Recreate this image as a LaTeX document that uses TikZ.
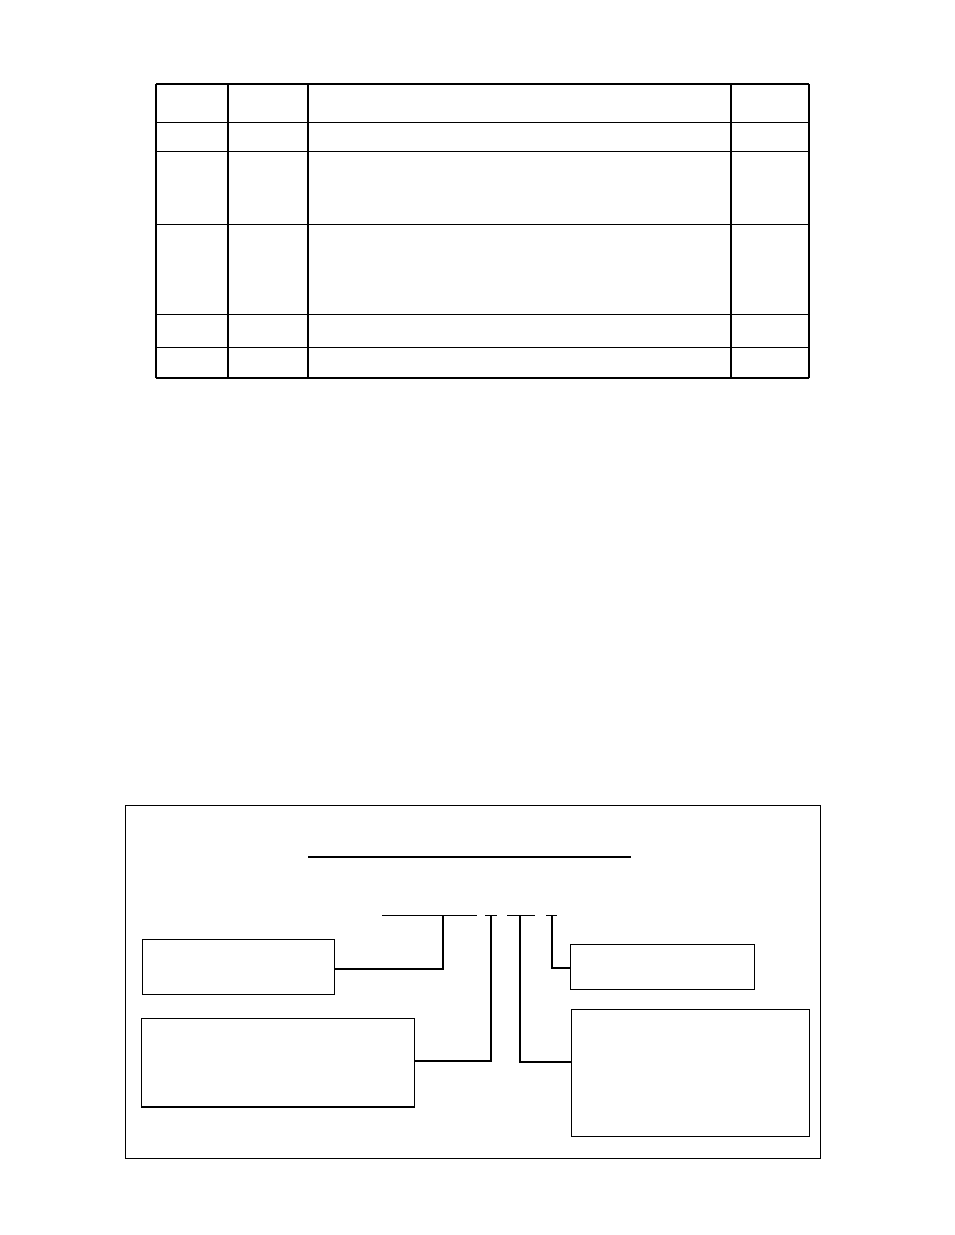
\documentclass[tikz,border=0pt]{standalone}
\usetikzlibrary{positioning}
\begin{document}
\begin{tikzpicture}[x=1pt, y=-1pt,
    box/.style={rectangle, draw, line width=1pt, inner sep=0pt, outer sep=0pt},
    lead/.style={line width=2pt},
    rule/.style={line width=1pt}
]
\useasboundingbox (0,0) rectangle (954,1235);

% Table
\draw[line width=1.8pt] (156,84) -- (809,84);
\draw[line width=2.2pt] (156,378) -- (809,378);
\draw[line width=1.6pt] (156,84) -- (156,378) (809,84) -- (809,378);
\foreach \y in {122,151,224,314,347} \draw[rule] (156,\y) -- (809,\y);
\foreach \x in {228,308,731} \draw[line width=1.3pt] (\x,84) -- (\x,378);

% Code frame
\draw[rule] (125,805) rectangle (820,1158);
\draw[line width=2pt] (308,857) -- (631,857);

% Code line
\draw[rule] (382,915) -- (477,915) (485,915) -- (497,915)
            (507,915) -- (535,915) (546,915) -- (557,915);
\coordinate (c1) at (443,915);
\coordinate (c2) at (491,915);
\coordinate (c3) at (520,915);
\coordinate (c4) at (552,915);

% Boxes
\node[box, minimum width=192pt, minimum height=55pt] (rangebox) at (238,966.5) {};
\node[box, minimum width=273pt, minimum height=89pt] (typebox) at (277.5,1062.5) {};
\draw[line width=2pt] (typebox.south west) -- (typebox.south east);
\node[box, minimum width=184pt, minimum height=45pt] (unitbox) at (662,966.5) {};
\node[box, minimum width=238pt, minimum height=127pt] (optbox) at (690,1072.5) {};

% Leads
\draw[lead] (c1) |- ([yshift=-2.5pt]rangebox.east);
\draw[lead] (c2) |- ([yshift=1.5pt]typebox.east);
\draw[lead] (c3) |- ([yshift=10.5pt]optbox.west);
\draw[lead] (c4) |- ([yshift=-1.5pt]unitbox.west);
\end{tikzpicture}
\end{document}
